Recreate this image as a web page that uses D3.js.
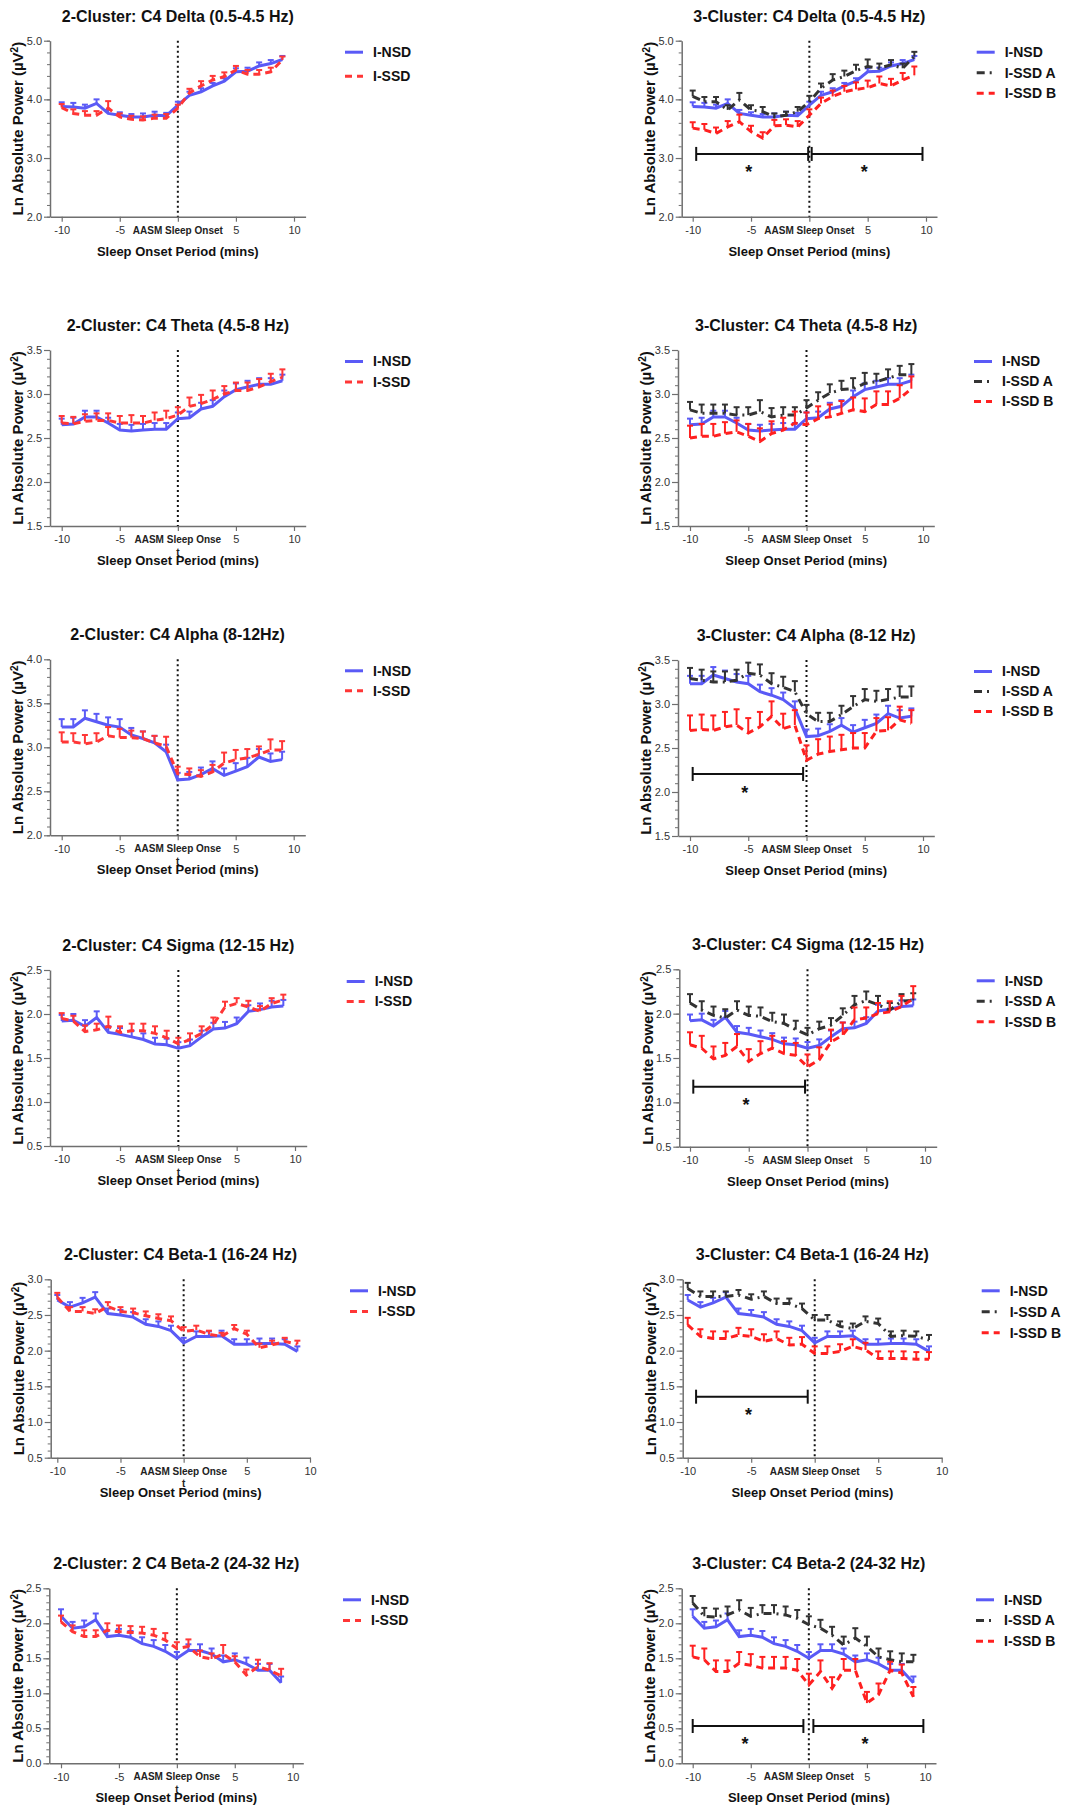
<!DOCTYPE html>
<html>
<head>
<meta charset="utf-8">
<script src="https://cdn.jsdelivr.net/npm/d3@7"></script>
<style>
body { margin: 0; background: #fff; }
svg text { font-family: "Liberation Sans", Arial, sans-serif; }
</style>
</head>
<body>
<script>
// minutes relative to AASM sleep onset
const minutes = [-10,-9,-8,-7,-6,-5,-4,-3,-2,-1,0,1,2,3,4,5,6,7,8,9];

// Delta
const deltaNSD     = [3.88,3.87,3.85,3.93,3.76,3.73,3.70,3.70,3.73,3.72,3.90,4.07,4.13,4.23,4.31,4.47,4.48,4.57,4.61,4.68];
const deltaNSDErr  = [0.07,0.07,0.06,0.07,0.06,0.05,0.05,0.06,0.06,0.05,0.06,0.06,0.06,0.05,0.05,0.06,0.06,0.06,0.06,0.06];
const deltaSSD     = [3.86,3.76,3.73,3.73,3.85,3.70,3.66,3.65,3.68,3.68,3.85,4.11,4.23,4.33,4.39,4.50,4.43,4.43,4.47,4.67];
const deltaSSDErr  = [0.06,0.07,0.07,0.07,0.12,0.06,0.06,0.06,0.06,0.07,0.06,0.07,0.08,0.07,0.07,0.07,0.07,0.07,0.07,0.06];
const deltaSSDA    = [4.05,3.96,3.96,3.82,3.99,3.82,3.79,3.70,3.73,3.79,3.96,4.19,4.33,4.39,4.49,4.56,4.53,4.59,4.53,4.73];
const deltaSSDAErr = [0.10,0.08,0.08,0.08,0.12,0.08,0.08,0.06,0.06,0.08,0.10,0.08,0.10,0.10,0.10,0.12,0.08,0.08,0.08,0.08];
const deltaSSDB    = [3.51,3.48,3.42,3.53,3.62,3.45,3.34,3.55,3.56,3.53,3.73,3.93,4.05,4.13,4.17,4.20,4.27,4.23,4.33,4.41];
const deltaSSDBErr = [0.10,0.10,0.10,0.10,0.12,0.10,0.10,0.10,0.10,0.10,0.10,0.10,0.10,0.10,0.12,0.12,0.12,0.12,0.12,0.15];

// Theta
const thetaNSD     = [2.65,2.66,2.74,2.74,2.67,2.59,2.58,2.59,2.60,2.60,2.72,2.73,2.83,2.86,2.97,3.05,3.08,3.11,3.11,3.15];
const thetaNSDErr  = [0.07,0.07,0.07,0.07,0.06,0.07,0.07,0.07,0.07,0.07,0.07,0.07,0.07,0.07,0.07,0.07,0.07,0.07,0.07,0.07];
const thetaSSD     = [2.67,2.66,2.69,2.70,2.70,2.67,2.67,2.67,2.70,2.72,2.76,2.86,2.89,2.94,3.00,3.04,3.04,3.08,3.14,3.19];
const thetaSSDErr  = [0.08,0.08,0.08,0.08,0.08,0.08,0.09,0.08,0.09,0.09,0.09,0.10,0.10,0.10,0.09,0.09,0.09,0.09,0.09,0.09];
const thetaSSDA    = [2.82,2.78,2.78,2.78,2.76,2.76,2.80,2.74,2.76,2.76,2.84,2.93,3.01,3.05,3.06,3.12,3.14,3.18,3.22,3.22];
const thetaSSDAErr = [0.09,0.10,0.10,0.10,0.09,0.09,0.13,0.10,0.09,0.09,0.09,0.09,0.10,0.10,0.12,0.12,0.09,0.10,0.10,0.12];
const thetaSSDB    = [2.50,2.52,2.52,2.55,2.57,2.52,2.46,2.55,2.59,2.67,2.65,2.72,2.74,2.78,2.82,2.80,2.88,2.88,2.95,3.06];
const thetaSSDBErr = [0.14,0.14,0.14,0.13,0.13,0.14,0.15,0.14,0.14,0.13,0.14,0.14,0.14,0.14,0.14,0.15,0.15,0.15,0.15,0.14];

// Alpha
const alphaNSD     = [3.23,3.23,3.33,3.29,3.25,3.23,3.14,3.10,3.05,2.95,2.63,2.64,2.69,2.76,2.68,2.73,2.78,2.89,2.84,2.86];
const alphaNSDErr  = [0.09,0.09,0.09,0.09,0.09,0.09,0.08,0.08,0.08,0.08,0.08,0.08,0.08,0.08,0.08,0.09,0.10,0.09,0.09,0.09];
const alphaSSD     = [3.06,3.06,3.04,3.06,3.13,3.11,3.11,3.10,3.05,3.01,2.70,2.69,2.67,2.72,2.82,2.86,2.88,2.92,2.97,2.97];
const alphaSSDErr  = [0.11,0.10,0.10,0.10,0.10,0.10,0.08,0.08,0.08,0.11,0.08,0.07,0.07,0.08,0.12,0.11,0.10,0.09,0.12,0.10];
const alphaSSDA    = [3.29,3.27,3.25,3.25,3.27,3.35,3.33,3.23,3.19,3.14,2.89,2.80,2.80,2.88,2.97,3.05,3.03,3.05,3.08,3.08];
const alphaSSDAErr = [0.12,0.12,0.12,0.12,0.12,0.12,0.12,0.12,0.12,0.12,0.10,0.10,0.10,0.10,0.12,0.12,0.12,0.12,0.12,0.12];
const alphaSSDB    = [2.70,2.71,2.70,2.74,2.76,2.67,2.74,2.86,2.72,2.76,2.36,2.43,2.46,2.48,2.50,2.50,2.69,2.70,2.82,2.78];
const alphaSSDBErr = [0.17,0.17,0.17,0.17,0.18,0.17,0.17,0.17,0.17,0.17,0.17,0.17,0.17,0.17,0.17,0.17,0.15,0.15,0.15,0.15];

// Sigma
const sigmaNSD     = [1.92,1.93,1.86,1.96,1.79,1.77,1.74,1.71,1.66,1.65,1.61,1.64,1.74,1.83,1.84,1.89,2.03,2.05,2.08,2.09];
const sigmaNSDErr  = [0.07,0.07,0.07,0.07,0.07,0.07,0.07,0.07,0.07,0.07,0.07,0.07,0.07,0.07,0.07,0.07,0.07,0.07,0.07,0.07];
const sigmaSSD     = [1.95,1.92,1.80,1.82,1.86,1.79,1.81,1.81,1.78,1.73,1.66,1.71,1.78,1.88,2.08,2.12,2.08,2.03,2.12,2.16];
const sigmaSSDErr  = [0.06,0.06,0.07,0.07,0.11,0.07,0.08,0.08,0.08,0.08,0.07,0.07,0.08,0.08,0.06,0.06,0.07,0.06,0.06,0.06];
const sigmaSSDA    = [2.12,2.04,1.98,1.95,2.04,1.98,1.97,1.91,1.89,1.82,1.76,1.83,1.87,1.98,2.10,2.15,2.10,2.04,2.14,2.15];
const sigmaSSDAErr = [0.10,0.10,0.10,0.10,0.10,0.10,0.10,0.10,0.10,0.10,0.08,0.08,0.08,0.08,0.10,0.10,0.10,0.08,0.08,0.08];
const sigmaSSDB    = [1.65,1.61,1.49,1.53,1.63,1.46,1.55,1.61,1.55,1.53,1.40,1.48,1.68,1.76,1.93,1.95,2.00,2.02,2.08,2.17];
const sigmaSSDBErr = [0.14,0.14,0.14,0.14,0.14,0.14,0.14,0.14,0.14,0.14,0.14,0.14,0.14,0.14,0.14,0.12,0.12,0.12,0.12,0.14];

// Beta-1
const beta1NSD     = [2.71,2.61,2.67,2.75,2.52,2.50,2.47,2.37,2.34,2.28,2.11,2.20,2.20,2.21,2.09,2.09,2.10,2.10,2.09,1.99];
const beta1NSDErr  = [0.07,0.07,0.07,0.07,0.07,0.07,0.07,0.07,0.07,0.07,0.07,0.07,0.07,0.07,0.07,0.07,0.07,0.07,0.07,0.07];
const beta1SSD     = [2.75,2.55,2.55,2.52,2.62,2.55,2.53,2.49,2.45,2.42,2.27,2.29,2.23,2.20,2.31,2.23,2.04,2.08,2.13,2.09];
const beta1SSDErr  = [0.06,0.06,0.06,0.06,0.06,0.06,0.06,0.06,0.06,0.06,0.06,0.06,0.05,0.05,0.05,0.05,0.06,0.06,0.05,0.05];
const beta1SSDA    = [2.87,2.76,2.76,2.76,2.78,2.72,2.76,2.66,2.66,2.59,2.43,2.43,2.34,2.31,2.41,2.38,2.20,2.21,2.20,2.15];
const beta1SSDAErr = [0.08,0.07,0.07,0.07,0.07,0.07,0.07,0.07,0.07,0.07,0.07,0.07,0.07,0.07,0.07,0.07,0.07,0.07,0.07,0.07];
const beta1SSDB    = [2.36,2.20,2.17,2.17,2.22,2.20,2.13,2.17,2.08,2.09,1.96,1.96,1.99,2.06,2.01,1.89,1.89,1.89,1.88,1.88];
const beta1SSDBErr = [0.10,0.10,0.10,0.10,0.10,0.10,0.10,0.10,0.10,0.10,0.10,0.10,0.10,0.10,0.10,0.10,0.10,0.10,0.10,0.10];

// Beta-2
const beta2NSD     = [2.10,1.93,1.95,2.05,1.81,1.83,1.80,1.71,1.67,1.60,1.50,1.61,1.61,1.56,1.45,1.48,1.42,1.33,1.33,1.15];
const beta2NSDErr  = [0.10,0.09,0.09,0.09,0.09,0.09,0.09,0.09,0.09,0.09,0.09,0.09,0.09,0.08,0.09,0.09,0.09,0.09,0.09,0.09];
const beta2SSD     = [2.02,1.88,1.81,1.81,1.90,1.88,1.87,1.86,1.83,1.76,1.64,1.67,1.52,1.49,1.56,1.45,1.26,1.38,1.33,1.25];
const beta2SSDErr  = [0.09,0.09,0.09,0.09,0.10,0.09,0.09,0.09,0.09,0.10,0.09,0.10,0.09,0.08,0.13,0.08,0.08,0.10,0.10,0.10];
const beta2SSDA    = [2.29,2.10,2.09,2.12,2.19,2.10,2.14,2.14,2.12,2.07,1.98,1.93,1.83,1.69,1.79,1.67,1.52,1.48,1.45,1.45];
const beta2SSDAErr = [0.10,0.12,0.12,0.12,0.14,0.12,0.12,0.12,0.12,0.12,0.12,0.12,0.12,0.12,0.14,0.14,0.12,0.12,0.12,0.10];
const beta2SSDB    = [1.52,1.48,1.31,1.31,1.43,1.40,1.36,1.36,1.36,1.33,1.12,1.31,1.07,1.33,1.33,0.86,0.98,1.33,1.29,0.95];
const beta2SSDBErr = [0.16,0.16,0.16,0.16,0.16,0.16,0.16,0.16,0.16,0.16,0.16,0.16,0.16,0.16,0.16,0.16,0.16,0.12,0.12,0.14];

// significance brackets [from, to, level] and stars [minute, level]
const deltaBars  = [[-9.7,-0.1,3.07],[0.2,9.7,3.07]];
const deltaStars = [[-5.2,2.82],[4.7,2.82]];
const alphaBars  = [[-9.77,-0.29,2.205]];
const alphaStars = [[-5.29,2.03]];
const sigmaBars  = [[-9.72,-0.21,1.177]];
const sigmaStars = [[-5.23,1.01]];
const beta1Bars  = [[-9.34,-0.55,1.355]];
const beta1Stars = [[-5.22,1.145]];
const beta2Bars  = [[-10.0,-0.47,0.533],[0.39,9.86,0.533]];
const beta2Stars = [[-5.5,0.324],[4.84,0.324]];

const styles = {
    "I-NSD":   {color: "#5a5af6", dash: null},
    "I-SSD":   {color: "#ff3636", dash: "7,5"},
    "I-SSD A": {color: "#333333", dash: "8,5,2,5"},
    "I-SSD B": {color: "#ff2020", dash: "7,5"}
};

const panels = [
    {title: "2-Cluster: C4 Delta (0.5-4.5 Hz)", yDomain: [2, 5], yStep: 1,
     series: [["I-NSD", deltaNSD, deltaNSDErr], ["I-SSD", deltaSSD, deltaSSDErr]],
     ax: 50, x0: 61.7, x1: 294, xEnd: 305.6, yTop: 40.7, yBot: 216.7, legX: 345, legGap: 24, onse: false},
    {title: "3-Cluster: C4 Delta (0.5-4.5 Hz)", yDomain: [2, 5], yStep: 1,
     series: [["I-NSD", deltaNSD, deltaNSDErr], ["I-SSD A", deltaSSDA, deltaSSDAErr], ["I-SSD B", deltaSSDB, deltaSSDBErr]],
     bars: deltaBars, stars: deltaStars,
     ax: 681.7, x0: 692.7, x1: 926, xEnd: 937, yTop: 40.7, yBot: 216.7, legX: 976.7, legGap: 20.5, onse: false},
    {title: "2-Cluster: C4 Theta (4.5-8 Hz)", yDomain: [1.5, 3.5], yStep: 0.5,
     series: [["I-NSD", thetaNSD, thetaNSDErr], ["I-SSD", thetaSSD, thetaSSDErr]],
     ax: 50, x0: 61.7, x1: 294, xEnd: 305.7, yTop: 350, yBot: 526, legX: 345, legGap: 20.6, onse: true},
    {title: "3-Cluster: C4 Theta (4.5-8 Hz)", yDomain: [1.5, 3.5], yStep: 0.5,
     series: [["I-NSD", thetaNSD, thetaNSDErr], ["I-SSD A", thetaSSDA, thetaSSDAErr], ["I-SSD B", thetaSSDB, thetaSSDBErr]],
     ax: 678, x0: 690, x1: 923, xEnd: 934.3, yTop: 350, yBot: 526, legX: 974, legGap: 20, onse: false},
    {title: "2-Cluster: C4 Alpha (8-12Hz)", yDomain: [2, 4], yStep: 0.5,
     series: [["I-NSD", alphaNSD, alphaNSDErr], ["I-SSD", alphaSSD, alphaSSDErr]],
     ax: 50, x0: 61.7, x1: 293.7, xEnd: 305.3, yTop: 659.3, yBot: 835.3, legX: 345, legGap: 20, onse: true},
    {title: "3-Cluster: C4 Alpha (8-12 Hz)", yDomain: [1.5, 3.5], yStep: 0.5,
     series: [["I-NSD", alphaNSD, alphaNSDErr], ["I-SSD A", alphaSSDA, alphaSSDAErr], ["I-SSD B", alphaSSDB, alphaSSDBErr]],
     bars: alphaBars, stars: alphaStars,
     ax: 678, x0: 690, x1: 923, xEnd: 934.3, yTop: 660, yBot: 836, legX: 974, legGap: 20, onse: false},
    {title: "2-Cluster: C4 Sigma (12-15 Hz)", yDomain: [0.5, 2.5], yStep: 0.5,
     series: [["I-NSD", sigmaNSD, sigmaNSDErr], ["I-SSD", sigmaSSD, sigmaSSDErr]],
     ax: 50, x0: 61.7, x1: 295, xEnd: 306.7, yTop: 970, yBot: 1146, legX: 346.7, legGap: 20, onse: true},
    {title: "3-Cluster: C4 Sigma (12-15 Hz)", yDomain: [0.5, 2.5], yStep: 0.5,
     series: [["I-NSD", sigmaNSD, sigmaNSDErr], ["I-SSD A", sigmaSSDA, sigmaSSDAErr], ["I-SSD B", sigmaSSDB, sigmaSSDBErr]],
     bars: sigmaBars, stars: sigmaStars,
     ax: 679.3, x0: 690, x1: 925, xEnd: 936.7, yTop: 969.3, yBot: 1146.7, legX: 976.7, legGap: 20.5, onse: false},
    {title: "2-Cluster: C4 Beta-1 (16-24 Hz)", yDomain: [0.5, 3], yStep: 0.5,
     series: [["I-NSD", beta1NSD, beta1NSDErr], ["I-SSD", beta1SSD, beta1SSDErr]],
     ax: 50.7, x0: 57.3, x1: 310, xEnd: 310.5, yTop: 1279.3, yBot: 1457.7, legX: 350, legGap: 20.6, onse: true},
    {title: "3-Cluster: C4 Beta-1 (16-24 Hz)", yDomain: [0.5, 3], yStep: 0.5,
     series: [["I-NSD", beta1NSD, beta1NSDErr], ["I-SSD A", beta1SSDA, beta1SSDAErr], ["I-SSD B", beta1SSDB, beta1SSDBErr]],
     bars: beta1Bars, stars: beta1Stars,
     ax: 682.7, x0: 687.7, x1: 941.7, xEnd: 942, yTop: 1279.3, yBot: 1457.7, legX: 981.7, legGap: 21, onse: false},
    {title: "2-Cluster: 2 C4 Beta-2 (24-32 Hz)", yDomain: [0, 2.5], yStep: 0.5,
     series: [["I-NSD", beta2NSD, beta2NSDErr], ["I-SSD", beta2SSD, beta2SSDErr]],
     ax: 49.3, x0: 61, x1: 292.7, xEnd: 303.3, yTop: 1588.3, yBot: 1763.3, legX: 343, legGap: 20.7, onse: true},
    {title: "3-Cluster: C4 Beta-2 (24-32 Hz)", yDomain: [0, 2.5], yStep: 0.5,
     series: [["I-NSD", beta2NSD, beta2NSDErr], ["I-SSD A", beta2SSDA, beta2SSDAErr], ["I-SSD B", beta2SSDB, beta2SSDBErr]],
     bars: beta2Bars, stars: beta2Stars,
     ax: 681.7, x0: 692.7, x1: 925, xEnd: 936, yTop: 1588.3, yBot: 1763.3, legX: 976, legGap: 20.7, onse: false}
];

const svg = d3.select("body")
    .append("svg")
    .attr("width", 1078)
    .attr("height", 1805);

const axisColor = "#6f6f6f";

const drawPanel = p => {
    const g = svg.append("g");
    const x = d3.scaleLinear().domain([-10, 10]).range([p.x0, p.x1]);
    const y = d3.scaleLinear().domain(p.yDomain).range([p.yBot, p.yTop]);
    const xAxisScale = d3.scaleLinear()
        .domain([x.invert(p.ax), x.invert(p.xEnd)])
        .range([p.ax, p.xEnd]);
    const midX = (p.ax + p.xEnd) / 2;

    // title
    g.append("text")
        .attr("x", midX)
        .attr("y", p.yTop - 25 + 5.8)
        .attr("text-anchor", "middle")
        .style("font-size", "16px")
        .style("font-weight", "bold")
        .attr("fill", "#111")
        .text(p.title);

    // y axis (minor + major)
    const n = Math.round((p.yDomain[1] - p.yDomain[0]) / p.yStep);
    const majors = d3.range(n + 1).map(i => p.yDomain[0] + i * p.yStep);
    const minors = d3.range(n * 5 + 1).map(i => p.yDomain[0] + i * p.yStep / 5);

    g.append("g")
        .attr("transform", `translate(${p.ax},0)`)
        .call(d3.axisLeft(y).tickValues(minors).tickFormat("").tickSize(3).tickSizeOuter(0))
        .call(a => a.select(".domain").remove())
        .call(a => a.selectAll("line").attr("stroke", axisColor));

    const yAxis = g.append("g")
        .attr("transform", `translate(${p.ax},0)`)
        .call(d3.axisLeft(y).tickValues(majors).tickFormat(d3.format(".1f")).tickSize(6).tickSizeOuter(0).tickPadding(2));
    yAxis.select(".domain").attr("stroke", axisColor).attr("stroke-width", 1.5);
    yAxis.selectAll("line").attr("stroke", axisColor).attr("stroke-width", 1.2);
    yAxis.selectAll("text")
        .style("font-size", "11px")
        .style("font-family", "'Liberation Sans', Arial, sans-serif")
        .attr("fill", "#333");

    // x axis
    const xAxis = g.append("g")
        .attr("transform", `translate(0,${p.yBot})`)
        .call(d3.axisBottom(xAxisScale).tickValues([-10, -5, 0, 5, 10])
            .tickFormat(d => d === 0 ? "" : d).tickSize(5).tickSizeOuter(0));
    xAxis.select(".domain").attr("stroke", axisColor).attr("stroke-width", 1.5);
    xAxis.selectAll("line").attr("stroke", axisColor).attr("stroke-width", 1.2);
    xAxis.selectAll("text")
        .attr("y", 13.5)
        .attr("dy", "0.35em")
        .style("font-size", "11px")
        .style("font-family", "'Liberation Sans', Arial, sans-serif")
        .attr("fill", "#333");

    g.append("text")
        .attr("x", x(0))
        .attr("y", p.yBot + 13.5)
        .attr("dy", "0.35em")
        .attr("text-anchor", "middle")
        .style("font-size", "10px")
        .style("font-weight", "bold")
        .attr("fill", "#222")
        .text(p.onse ? "AASM Sleep Onse" : "AASM Sleep Onset");

    if (p.onse) {
        g.append("text")
            .attr("x", x(0))
            .attr("y", p.yBot + 26)
            .attr("dy", "0.35em")
            .attr("text-anchor", "middle")
            .style("font-size", "10px")
            .style("font-weight", "bold")
            .attr("fill", "#222")
            .text("t");
    }

    // axis titles
    g.append("text")
        .attr("x", midX)
        .attr("y", p.yBot + 34.3)
        .attr("dy", "0.35em")
        .attr("text-anchor", "middle")
        .style("font-size", "13px")
        .style("font-weight", "bold")
        .attr("fill", "#111")
        .text("Sleep Onset Period (mins)");

    const yt = g.append("text")
        .attr("transform", `translate(${p.ax - 32},${(p.yTop + p.yBot) / 2}) rotate(-90)`)
        .attr("dy", "0.35em")
        .attr("text-anchor", "middle")
        .style("font-size", "15px")
        .style("font-weight", "bold")
        .attr("fill", "#111");
    yt.append("tspan").text("Ln Absolute Power (µV");
    yt.append("tspan").attr("baseline-shift", "super").style("font-size", "10px").text("2");
    yt.append("tspan").text(")");

    // sleep onset dotted line
    g.append("line")
        .attr("x1", x(0)).attr("x2", x(0))
        .attr("y1", y(p.yDomain[1])).attr("y2", p.yBot)
        .attr("stroke", "#111")
        .attr("stroke-width", 2)
        .attr("stroke-dasharray", "2,3");

    // series
    const line = d3.line().x((d, i) => x(minutes[i])).y(d => y(d));
    p.series.forEach(([name, vals, errs]) => {
        const st = styles[name];
        const eg = g.append("g").attr("stroke", st.color).attr("stroke-width", 2);
        vals.forEach((v, i) => {
            const cx = x(minutes[i]);
            eg.append("line")
                .attr("x1", cx).attr("x2", cx)
                .attr("y1", y(v)).attr("y2", y(v + errs[i]));
            eg.append("line")
                .attr("x1", cx - 3).attr("x2", cx + 3)
                .attr("y1", y(v + errs[i])).attr("y2", y(v + errs[i]));
        });
        g.append("path")
            .datum(vals)
            .attr("d", line)
            .attr("fill", "none")
            .attr("stroke", st.color)
            .attr("stroke-width", 3)
            .attr("stroke-dasharray", st.dash);
    });

    // legend
    p.series.forEach(([name], i) => {
        const st = styles[name];
        const ly = p.yTop + 11.5 + i * p.legGap;
        g.append("line")
            .attr("x1", p.legX).attr("x2", p.legX + 18)
            .attr("y1", ly).attr("y2", ly)
            .attr("stroke", st.color)
            .attr("stroke-width", 3)
            .attr("stroke-dasharray", st.dash);
        g.append("text")
            .attr("x", p.legX + 28)
            .attr("y", ly)
            .attr("dy", "0.35em")
            .style("font-size", "14px")
            .style("font-weight", "bold")
            .attr("fill", "#111")
            .text(name);
    });

    // significance brackets
    (p.bars || []).forEach(([a, b, v]) => {
        const bg = g.append("g").attr("stroke", "#111").attr("stroke-width", 2);
        bg.append("line").attr("x1", x(a)).attr("x2", x(b)).attr("y1", y(v)).attr("y2", y(v));
        [a, b].forEach(e => {
            bg.append("line").attr("x1", x(e)).attr("x2", x(e)).attr("y1", y(v) - 7).attr("y2", y(v) + 7);
        });
    });
    (p.stars || []).forEach(([m, v]) => {
        g.append("text")
            .attr("x", x(m))
            .attr("y", y(v) + 9.4)
            .attr("text-anchor", "middle")
            .style("font-size", "18px")
            .style("font-weight", "bold")
            .attr("fill", "#111")
            .text("*");
    });
};

panels.forEach(drawPanel);
</script>
</body>
</html>
